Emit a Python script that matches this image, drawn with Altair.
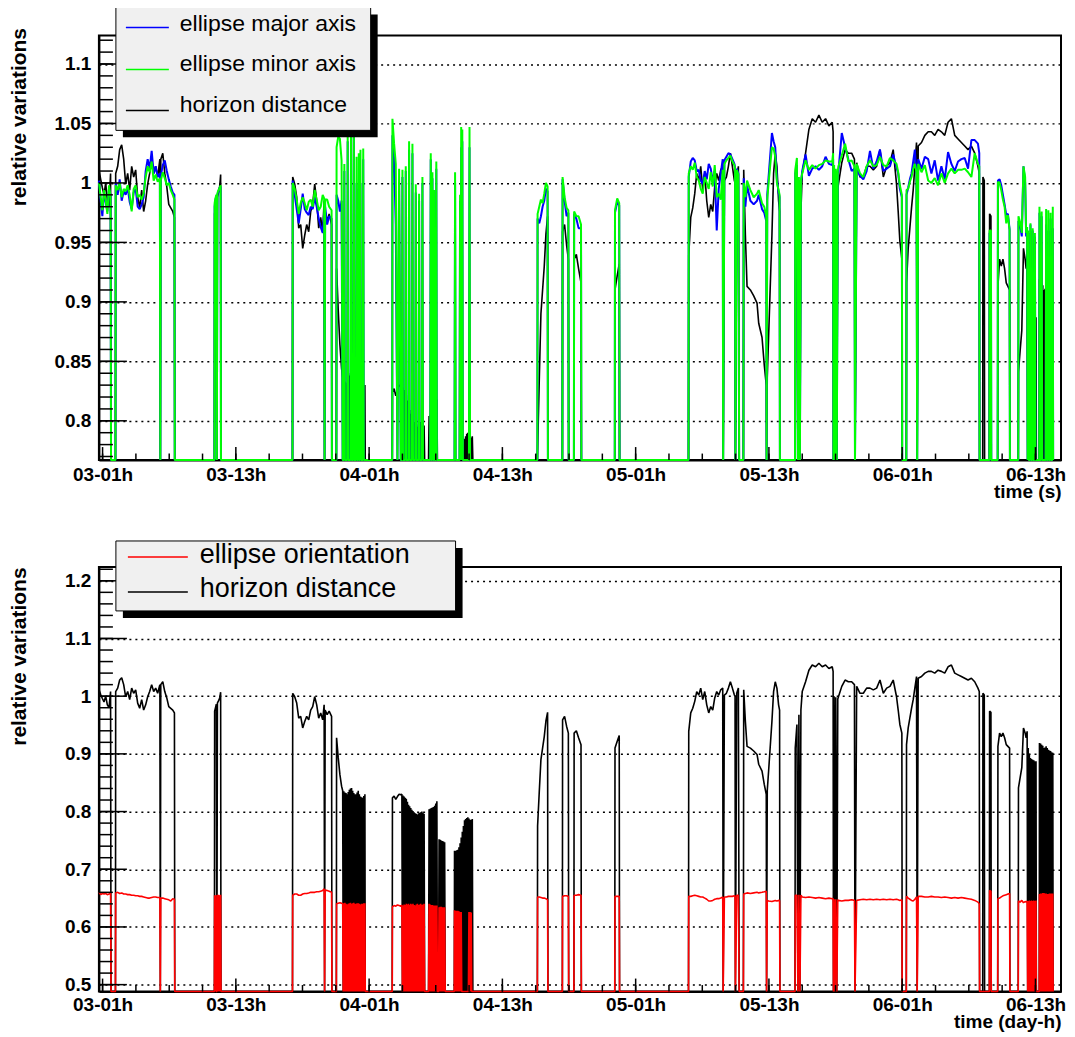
import altair as alt
import pandas as pd

# ---------------- data: time in hours since day 03, 00h ----------------
T = [
    # A
    0.68, 0.83, 0.98, 1.13, 1.28, 1.43, 1.58, 1.72, 1.76,
    # B
    2.16, 2.18, 2.36, 2.54, 2.72, 2.90, 3.08, 3.26, 3.44, 3.62, 3.80, 3.98, 4.16, 4.34, 4.52, 4.70, 4.88, 5.06, 5.24, 5.42, 5.60, 5.78, 5.96, 6.16, 6.20, 6.24, 6.42, 6.60, 6.78, 6.96, 7.14, 7.32, 7.47, 7.50,
    # C
    11.07, 11.09, 11.14, 11.19, 11.24, 11.29, 11.34, 11.39, 11.44, 11.49, 11.54, 11.59, 11.63, 11.66,
    # D
    18.10, 18.12, 18.30, 18.48, 18.66, 18.84, 19.02, 19.20, 19.38, 19.56, 19.74, 19.92, 20.10, 20.28, 20.46, 20.64, 20.82, 20.95, 20.99, 21.04, 21.22, 21.40, 21.62, 21.65,
    # E
    22.05, 22.07, 22.22, 22.37, 22.52,
    22.62, 22.67, 22.72, 22.77, 22.82, 22.87, 22.92, 22.97, 23.02, 23.07,
    23.12, 23.17, 23.22, 23.27, 23.32, 23.37, 23.42, 23.47, 23.52, 23.57,
    23.62, 23.67, 23.72, 23.77, 23.82, 23.87, 23.92, 23.97, 24.02, 24.07,
    24.12, 24.17, 24.22, 24.27, 24.32, 24.37, 24.42, 24.47, 24.52, 24.57,
    24.62,
    24.65,
    # F
    27.08, 27.10, 27.25, 27.40, 27.55, 27.70, 27.85,
    27.95, 28.00, 28.05, 28.10, 28.15, 28.20, 28.25, 28.30, 28.35, 28.40,
    28.45, 28.50, 28.55, 28.60, 28.65, 28.70, 28.75, 28.80, 28.85, 28.90,
    28.95, 29.00, 29.05, 29.10, 29.15, 29.20, 29.25, 29.30, 29.35, 29.40,
    29.45, 29.50, 29.55, 29.60, 29.65, 29.70, 29.75, 29.80, 29.85, 29.90,
    29.95, 30.00,
    30.35,
    30.40, 30.45, 30.50, 30.55, 30.60, 30.65, 30.70, 30.75, 30.80, 30.85, 30.90, 30.95, 31.00, 31.05, 31.10, 31.15,
    31.25,
    31.30, 31.35, 31.40, 31.45, 31.50, 31.55, 31.60, 31.65, 31.70, 31.75, 31.80, 31.85,
    # G
    32.67,
    32.69, 32.74, 32.79, 32.84, 32.89, 32.94, 32.99, 33.04, 33.09, 33.14,
    33.19, 33.24, 33.29, 33.34, 33.39, 33.44, 33.49, 33.54, 33.59, 33.64,
    33.69, 33.74, 33.79, 33.84, 33.89, 33.94, 33.99, 34.04, 34.09, 34.14,
    34.19, 34.24, 34.29,
    34.34,
    # H
    40.15, 40.17, 40.32, 40.47, 40.62, 40.77, 40.92, 41.07, 41.10,
    # I
    42.40, 42.42, 42.60, 42.78, 42.94, 42.97,
    # J
    43.44, 43.46, 43.66, 43.86, 44.08, 44.11,
    # K
    47.12, 47.14, 47.34, 47.52, 47.55,
    # L
    53.76, 53.78, 53.96, 54.14, 54.32, 54.50, 54.68, 54.86, 55.04, 55.22, 55.40, 55.58, 55.76, 55.94, 56.12, 56.30, 56.48, 56.66, 56.84, 56.88, 56.99, 57.17, 57.35, 57.53, 57.71, 57.89, 57.95, 57.98, 58.10, 58.25, 58.32,
    # L2
    58.70, 58.73, 58.88, 59.03, 59.33, 59.63, 59.93, 60.08, 60.38, 60.58, 60.76, 60.79, 60.85, 60.97, 61.27, 61.42, 61.57, 61.72, 61.87, 61.96, 61.99,
    # M
    63.35, 63.37, 63.52, 63.61, 63.70, 63.79, 63.88, 64.00, 64.30, 64.60, 64.90, 65.20, 65.50, 65.80, 66.10, 66.40, 66.70, 66.78, 66.81, 66.87, 66.93, 67.02, 67.11, 67.20, 67.26, 67.56, 67.86, 68.15, 68.45, 68.70, 68.75, 68.90, 69.20, 69.50, 69.80, 70.10, 70.40, 70.70, 71.00, 71.30, 71.60, 71.90, 72.19, 72.49, 72.64, 72.79, 72.97, 73.00,
    # N
    73.37, 73.39, 73.54, 73.69, 73.84, 73.99, 74.14, 74.29, 74.35, 74.44, 74.74, 75.04, 75.34, 75.63, 75.93, 76.23, 76.53, 76.83, 77.13, 77.43, 77.73, 78.03, 78.33, 78.63, 78.93, 79.23, 79.53, 79.82, 79.94, 79.97,
    # P
    80.25, 80.27, 80.39, 80.42, 80.85, 80.87, 80.99, 81.02, 81.60, 81.62, 81.77, 81.92, 82.07, 82.22, 82.37, 82.52, 82.67, 82.70,
    # Q
    83.45, 83.47, 83.62, 83.77, 83.92, 84.07, 84.16, 84.25,
    84.30, 84.35, 84.40, 84.45, 84.50, 84.55, 84.60, 84.65, 84.70, 84.75, 84.80, 84.85, 84.90, 84.95, 85.00, 85.05,
    85.08, 85.34,
    85.36, 85.41, 85.46, 85.51, 85.56, 85.61, 85.66, 85.71, 85.76, 85.81, 85.86, 85.91, 85.96, 86.01, 86.06, 86.11, 86.16, 86.21, 86.26, 86.31, 86.36, 86.41, 86.46, 86.51, 86.56,
    86.59,
]

HORIZON = [
    # A
    1.011, 1.003, 0.996, 0.990, 1.000, 0.985, 0.980, 1.008, 0,
    # B
    0, 1.008, 1.014, 1.028, 1.032, 1.020, 0.999, 1.008, 0.994, 1.014, 1.005, 1.011, 0.988, 0.979, 0.994, 0.976, 0.985, 0.999, 1.008, 1.020, 1.008, 1.014, 1.005, 1.020, 0, 1.020, 1.025, 1.008, 0.997, 0.982, 0.979, 0.976, 0.971, 0,
    # C
    0, 0.974, 0.978, 0.982, 0.986, 0, 0.988, 0.990, 0.992, 0.994, 0.997, 1.002, 1.007, 0,
    # D
    0, 1.005, 0.999, 0.988, 0.962, 0.965, 0.945, 0.956, 0.965, 0.959, 0.976, 0.982, 0.999, 0.985, 0.962, 0.971, 0.959, 0.985, 0, 0.976, 0.968, 0.974, 0.965, 0,
    # E
    0, 0.928, 0.893, 0.864, 0.844,
    0.836, 0, 0.835, 0, 0.833, 0, 0.832, 0, 0.830, 0,
    0.834, 0, 0.838, 0, 0.840, 0, 0.841, 0, 0.836, 0,
    0.832, 0, 0.830, 0, 0.830, 0, 0.833, 0, 0.836, 0,
    0.830, 0, 0.826, 0, 0.825, 0, 0.824, 0, 0.827, 0,
    0.830,
    0,
    # F
    0, 0.824, 0.827, 0.821, 0.826, 0.830, 0.829,
    0.830, 0, 0.828, 0, 0.826, 0, 0.824, 0, 0.822, 0,
    0.817, 0, 0.812, 0, 0.809, 0, 0.806, 0, 0.803, 0,
    0.801, 0, 0.799, 0, 0.797, 0, 0.796, 0, 0.795, 0,
    0.797, 0, 0.798, 0, 0.799, 0, 0.800, 0, 0.798, 0,
    0.796, 0,
    0,
    0.804, 0, 0.805, 0, 0.806, 0, 0.807, 0, 0.808, 0, 0.810, 0, 0.814, 0, 0.818, 0,
    0,
    0.752, 0, 0.751, 0, 0.750, 0, 0.749, 0, 0.748, 0, 0.747, 0,
    # G
    0,
    0.732, 0, 0.732, 0, 0.733, 0, 0.734, 0, 0.738, 0,
    0.745, 0, 0.755, 0, 0.765, 0, 0.775, 0, 0.785, 0,
    0.787, 0, 0.789, 0, 0.790, 0, 0.788, 0, 0.786, 0,
    0.786, 0, 0.787,
    0,
    # H
    0, 0.775, 0.834, 0.890, 0.910, 0.930, 0.957, 0.972, 0,
    # I
    0, 0.959, 0.965, 0.948, 0.936, 0,
    # J
    0, 0.936, 0.940, 0.928, 0.916, 0,
    # K
    0, 0.910, 0.922, 0.932, 0,
    # L
    0, 0.939, 0.971, 0.979, 0.991, 1.008, 1.002, 1.014, 0.994, 1.008, 0.985, 0.971, 0.982, 0.976, 0.997, 1.008, 1.002, 1.011, 1.014, 0, 1.002, 1.005, 1.014, 1.025, 1.014, 1.002, 1.000, 0, 1.005, 1.014, 0,
    # L2
    0, 1.011, 0.956, 0.913, 0.910, 0.905, 0.899, 0.882, 0.870, 0.847, 0.830, 0, 0.836, 0.870, 0.956, 1.008, 1.025, 1.014, 0.985, 0.976, 0,
    # M
    0, 0.910, 0.951, 0, 0.968, 0, 0.976, 1.008, 1.025, 1.045, 1.054, 1.051, 1.057, 1.051, 1.054, 1.048, 1.051, 1.043, 0, 1.000, 0, 0.998, 0, 0.995, 0.999, 1.017, 1.028, 1.025, 1.025, 1.020, 0, 1.017, 1.005, 1.005, 1.014, 1.014, 1.011, 1.014, 1.028, 1.005, 1.014, 1.017, 1.028, 0.999, 0.976, 0.951, 0.936, 0,
    # N
    0, 0.916, 0.945, 0.962, 0.979, 0.994, 1.014, 1.034, 0, 1.031, 1.034, 1.040, 1.043, 1.043, 1.040, 1.045, 1.043, 1.040, 1.051, 1.054, 1.040, 1.037, 1.034, 1.031, 1.028, 1.031, 1.025, 1.014, 1.008, 0,
    # P
    0, 1.005, 1.002, 0, 0, 0.974, 0.972, 0, 0, 0.913, 0.936, 0.930, 0.936, 0.928, 0.916, 0.913, 0.910, 0,
    # Q
    0, 0.841, 0.859, 0.876, 0.945, 0.936, 0.928, 0.939,
    0, 0.910, 0, 0.900, 0, 0.893, 0, 0.891, 0, 0.890, 0, 0.889, 0, 0.887, 0, 0.887,
    0, 0,
    0.919, 0, 0.918, 0, 0.916, 0, 0.914, 0, 0.910, 0, 0.911, 0, 0.913, 0, 0.910, 0, 0.907, 0, 0.906, 0, 0.905, 0, 0.903, 0, 0.902,
    0,
]

MINOR_AXIS = [
    # A
    1.000, 0.988, 0.977, 0.994, 0.986, 0.974, 0.998, 0.988, 0,
    # B
    0, 0.998, 0.994, 1.000, 0.988, 0.995, 0.993, 0.998, 0.990, 0.976, 0.995, 0.998, 0.988, 0.990, 0.986, 0.991, 1.005, 1.014, 1.009, 1.018, 1.002, 1.007, 1.001, 1.004, 0, 1.002, 1.009, 1.004, 0.998, 1.000, 0.994, 0.990, 0.986, 0,
    # C
    0, 0.983, 0.986, 0.988, 0.990, 0, 0.991, 0.993, 0.994, 0.995, 0.996, 0.997, 0.998, 0,
    # D
    0, 1.000, 0.995, 0.986, 0.974, 0.983, 0.988, 0.983, 0.977, 0.984, 0.986, 0.980, 0.994, 0.986, 0.977, 0.980, 0.990, 0.987, 0, 0.986, 0.986, 0.980, 0.977, 0,
    # E
    0, 1.030, 1.039, 1.037, 1.019,
    0, 0, 0, 1.016, 0, 0, 0, 0, 0, 1.040,
    0, 0, 0, 0, 0, 1.039, 0, 0, 0, 0,
    1.058, 0, 0, 0, 0, 1.022, 0, 0, 0, 1.025,
    0, 0, 1.028, 0, 0, 0, 0, 1.029, 0, 0,
    0,
    0,
    # F
    0, 1.054, 1.033, 1.016, 0, 1.012, 0,
    0, 1.011, 0, 0, 0, 0, 0, 1.014, 0, 0,
    0, 0, 0, 1.035, 0, 0, 0, 0, 0, 1.033,
    0, 0, 0, 0, 0, 0.999, 0, 0, 0, 0,
    0, 0.991, 0, 0, 0, 0, 0, 1.005, 0, 0,
    0, 0,
    0,
    0, 0, 0, 1.025, 0, 0, 1.009, 0, 0, 0.994, 0, 0, 0, 1.018, 0, 0,
    0,
    0, 0, 0, 0, 0, 0, 0, 0, 0, 0, 0, 0,
    # G
    0,
    0, 1.009, 0, 0, 0, 0, 0, 0, 0, 0,
    0.990, 0, 1.047, 0, 1.045, 0, 0, 0, 0, 0,
    0, 0, 0, 0, 0, 0, 0, 1.047, 0, 0,
    0, 0, 0,
    0,
    # H
    0, 0.974, 0.980, 0.986, 0.983, 0.991, 1.000, 0.997, 0,
    # I
    0, 1.005, 0.988, 0.979, 0.977, 0,
    # J
    0, 0.976, 0.972, 0.972, 0.965, 0,
    # K
    0, 0.977, 0.987, 0.983, 0,
    # L
    0, 1.008, 1.014, 1.011, 1.017, 1.005, 1.002, 0.995, 0.991, 1.005, 1.000, 0.995, 1.009, 0.997, 1.015, 0.988, 0.991, 0.986, 1.011, 0, 1.016, 1.019, 1.021, 1.023, 1.018, 1.015, 1.012, 0, 1.011, 1.007, 0,
    # L2
    0, 1.000, 0.988, 1.002, 0.994, 0.988, 0.991, 0.994, 0.983, 0.980, 0.972, 0, 0.986, 1.000, 1.030, 1.029, 1.022, 1.000, 0.994, 0.990, 0,
    # M
    0, 1.011, 1.021, 0, 1.005, 0, 1.002, 1.008, 1.019, 1.011, 1.015, 1.012, 1.015, 1.016, 1.019, 1.018, 1.018, 1.025, 0, 1.015, 0, 1.012, 0, 1.010, 1.014, 1.023, 1.033, 1.018, 1.019, 1.014, 0, 1.016, 1.008, 1.005, 1.014, 1.019, 1.014, 1.015, 1.022, 1.015, 1.014, 1.021, 1.019, 1.016, 1.009, 0.998, 0.990, 0,
    # N
    0, 0.994, 0.995, 1.001, 1.005, 1.012, 1.016, 1.009, 0, 1.016, 1.009, 1.015, 1.002, 1.000, 1.004, 0.998, 1.008, 1.000, 1.008, 1.012, 1.008, 1.011, 1.011, 1.012, 1.009, 1.005, 1.025, 1.016, 1.014, 0,
    # P
    0, 0, 0, 0, 0, 0.960, 0.960, 0, 0, 1.001, 1.000, 0.994, 0.986, 0.980, 0.966, 0.973, 0.960, 0,
    # Q
    0, 0.972, 0.967, 0.958, 1.014, 1.005, 0.958, 0.963,
    0, 0.960, 0, 0, 0, 0.966, 0, 0, 0, 0.962, 0, 0, 0, 0.958, 0, 0,
    0, 0,
    0.980, 0, 0, 0, 0.976, 0, 0, 0, 0, 0, 0, 0, 0.978, 0, 0, 0, 0.977, 0, 0, 0, 0.975, 0, 0, 0, 0.980,
    0,
]

MAJOR_AXIS = [
    # A
    1.002, 0.985, 0.972, 0.992, 0.984, 0.976, 0.995, 0.990, 0,
    # B
    0, 1.000, 0.990, 1.003, 0.985, 0.993, 0.990, 0.996, 0.984, 0.978, 0.992, 0.995, 0.980, 0.978, 0.982, 0.988, 1.010, 1.020, 1.012, 1.027, 1.008, 1.014, 1.005, 1.008, 0, 1.006, 1.015, 1.019, 1.010, 1.003, 0.997, 0.992, 0.990, 0,
    # C
    0, 0.980, 0.984, 0.987, 0.989, 0, 0.990, 0.992, 0.993, 0.995, 0.996, 0.996, 0.997, 0,
    # D
    0, 1.002, 0.990, 0.978, 0.966, 0.978, 0.991, 0.978, 0.975, 0.973, 0.980, 0.978, 0.988, 0.980, 0.970, 0.963, 0.958, 0.975, 0, 0.980, 0.965, 0.972, 0.970, 0,
    # E
    0, 0.990, 0.985, 0.976, 0.985,
    0, 0, 0, 1.010, 0, 0, 0, 0, 0, 1.035,
    0, 0, 0, 0, 0, 1.030, 0, 0, 0, 0,
    1.050, 0, 0, 0, 0, 1.000, 0, 0, 0, 0.995,
    0, 0, 1.000, 0, 0, 0, 0, 1.020, 0, 0,
    0,
    0,
    # F
    0, 1.040, 1.020, 0.965, 0, 1.000, 0,
    0, 1.005, 0, 0, 0, 0, 0, 1.010, 0, 0,
    0, 0, 0, 1.028, 0, 0, 0, 0, 0, 1.025,
    0, 0, 0, 0, 0, 0.992, 0, 0, 0, 0,
    0, 0.985, 0, 0, 0, 0, 0, 1.000, 0, 0,
    0, 0,
    0,
    0, 0, 0, 1.020, 0, 0, 1.004, 0, 0, 0.994, 0, 0, 0, 1.012, 0, 0,
    0,
    0, 0, 0, 0, 0, 0, 0, 0, 0, 0, 0, 0,
    # G
    0,
    0, 1.000, 0, 0, 0, 0, 0, 0, 0, 0,
    0.985, 0, 1.030, 0, 1.035, 0, 0, 0, 0, 0,
    0, 0, 0, 0, 0, 0, 0, 1.030, 0, 0,
    0, 0, 0,
    0,
    # H
    0, 0.970, 0.966, 0.972, 0.980, 0.985, 0.995, 0.993, 0,
    # I
    0, 1.003, 0.985, 0.972, 0.975, 0,
    # J
    0, 0.974, 0.970, 0.962, 0.962, 0,
    # K
    0, 0.975, 0.984, 0.981, 0,
    # L
    0, 1.005, 1.018, 1.021, 1.019, 1.010, 1.011, 1.002, 0.999, 1.010, 1.003, 1.016, 1.012, 1.002, 1.010, 0.960, 0.995, 1.008, 1.020, 0, 1.019, 1.022, 1.025, 1.024, 1.020, 1.016, 1.013, 0, 1.012, 1.008, 0,
    # L2
    0, 1.004, 0.980, 0.998, 0.985, 0.982, 0.985, 0.990, 0.978, 0.975, 0.968, 0, 0.990, 1.005, 1.042, 1.035, 1.030, 1.003, 0.992, 0.988, 0,
    # M
    0, 1.008, 1.015, 0, 0.998, 0, 1.000, 1.010, 1.024, 1.006, 1.012, 1.014, 1.011, 1.014, 1.022, 1.016, 1.015, 1.020, 0, 1.012, 0, 1.010, 0, 1.008, 1.010, 1.042, 1.030, 1.020, 1.010, 1.012, 0, 1.012, 1.006, 1.003, 1.010, 1.027, 1.012, 1.018, 1.028, 1.010, 1.012, 1.014, 1.024, 1.013, 1.008, 0.995, 0.988, 0,
    # N
    0, 0.990, 0.996, 1.003, 1.008, 1.018, 1.028, 1.007, 0, 1.020, 1.012, 1.022, 1.020, 1.008, 1.019, 1.002, 1.014, 1.003, 1.026, 1.016, 1.010, 1.018, 1.020, 1.021, 1.012, 1.036, 1.036, 1.033, 1.025, 0,
    # P
    0, 0, 0, 0, 0, 0.958, 0.958, 0, 0, 1.002, 1.003, 0.998, 0.990, 0.982, 0.973, 0.974, 0.961, 0,
    # Q
    0, 0.968, 0.964, 0.955, 1.014, 1.000, 0.955, 0.960,
    0, 0.958, 0, 0, 0, 0.965, 0, 0, 0, 0.960, 0, 0, 0, 0.955, 0, 0,
    0, 0,
    0.975, 0, 0, 0, 0.972, 0, 0, 0, 0, 0, 0, 0, 0.965, 0, 0, 0, 0.960, 0, 0, 0, 0.970, 0, 0, 0, 0.962,
    0,
]

ORIENTATION = [
    # A
    0.660, 0.656, 0.658, 0.657, 0.658, 0.656, 0.657, 0.659, 0,
    # B
    0, 0.659, 0.660, 0.658, 0.659, 0.657, 0.657, 0.656, 0.656, 0.655, 0.655, 0.654, 0.654, 0.653, 0.653, 0.652, 0.651, 0.650, 0.650, 0.651, 0.652, 0.652, 0.651, 0.651, 0, 0.650, 0.650, 0.649, 0.648, 0.647, 0.645, 0.649, 0.648, 0,
    # C
    0, 0.655, 0, 0.655, 0, 0, 0.656, 0, 0.656, 0, 0.655, 0, 0.656, 0,
    # D
    0, 0.655, 0.657, 0.657, 0.655, 0.655, 0.657, 0.658, 0.658, 0.659, 0.660, 0.660, 0.660, 0.661, 0.661, 0.662, 0.663, 0.666, 0, 0.664, 0.663, 0.662, 0.660, 0,
    # E
    0, 0.640, 0.641, 0.642, 0.641,
    0.640, 0, 0.641, 0, 0.642, 0, 0.640, 0, 0.639, 0,
    0.640, 0, 0.641, 0, 0.642, 0, 0.640, 0, 0.641, 0,
    0.642, 0, 0.640, 0, 0.640, 0, 0.641, 0, 0.641, 0,
    0.640, 0, 0.639, 0, 0.640, 0, 0.640, 0, 0.641, 0,
    0.641,
    0,
    # F
    0, 0.635, 0.637, 0.636, 0.638, 0.637, 0.636,
    0.638, 0, 0.637, 0, 0.639, 0, 0.638, 0, 0.640, 0,
    0.639, 0, 0.640, 0, 0.638, 0, 0.640, 0, 0.639, 0,
    0.640, 0, 0.638, 0, 0.637, 0, 0.639, 0, 0.640, 0,
    0.638, 0, 0.639, 0, 0.640, 0, 0.638, 0, 0.639, 0,
    0.640, 0,
    0,
    0.640, 0, 0.639, 0, 0.638, 0, 0.638, 0, 0.637, 0, 0.637, 0, 0.637, 0, 0.637, 0,
    0,
    0.634, 0, 0.635, 0, 0.635, 0, 0.634, 0, 0.634, 0, 0.634, 0,
    # G
    0,
    0.629, 0, 0.628, 0, 0.628, 0, 0.628, 0, 0.627, 0,
    0.626, 0, 0.626, 0, 0, 0, 0, 0, 0, 0,
    0, 0, 0, 0, 0, 0, 0.626, 0, 0.626, 0,
    0.625, 0, 0,
    0,
    # H
    0, 0.652, 0.652, 0.651, 0.650, 0.650, 0.649, 0.647, 0,
    # I
    0, 0.653, 0.654, 0.654, 0.653, 0,
    # J
    0, 0.655, 0.655, 0.656, 0.655, 0,
    # K
    0, 0.653, 0.653, 0.653, 0,
    # L
    0, 0.653, 0.653, 0.654, 0.655, 0.654, 0.653, 0.652, 0.652, 0.650, 0.648, 0.645, 0.645, 0.646, 0.648, 0.649, 0.649, 0.650, 0.652, 0, 0.652, 0.652, 0.653, 0.653, 0.653, 0.654, 0.654, 0, 0.655, 0.655, 0,
    # L2
    0, 0.657, 0.658, 0.659, 0.658, 0.659, 0.660, 0.659, 0.660, 0.661, 0.662, 0, 0.646, 0.645, 0.644, 0.645, 0.646, 0.645, 0.646, 0.646, 0,
    # M
    0, 0.655, 0.655, 0, 0.656, 0, 0.655, 0.652, 0.651, 0.652, 0.651, 0.650, 0.651, 0.650, 0.649, 0.650, 0.649, 0.649, 0, 0.648, 0, 0.648, 0, 0.647, 0.646, 0.645, 0.646, 0.646, 0.647, 0.646, 0, 0.646, 0.647, 0.648, 0.647, 0.648, 0.647, 0.648, 0.647, 0.648, 0.647, 0.648, 0.647, 0.648, 0.647, 0.646, 0.647, 0,
    # N
    0, 0.653, 0.650, 0.648, 0.646, 0.645, 0.648, 0.652, 0, 0.653, 0.653, 0.652, 0.652, 0.653, 0.652, 0.652, 0.651, 0.652, 0.651, 0.650, 0.651, 0.650, 0.651, 0.650, 0.649, 0.648, 0.646, 0.643, 0.640, 0,
    # P
    0, 0, 0, 0, 0, 0.663, 0.662, 0, 0, 0.649, 0.650, 0.652, 0.654, 0.655, 0.656, 0.657, 0.658, 0,
    # Q
    0, 0.645, 0.643, 0.646, 0.642, 0.644, 0.643, 0.645,
    0, 0.645, 0, 0.646, 0, 0.645, 0, 0.646, 0, 0.645, 0, 0.646, 0, 0.645, 0, 0.646,
    0, 0,
    0.657, 0, 0.658, 0, 0.658, 0, 0.659, 0, 0.659, 0, 0.658, 0, 0.658, 0, 0.657, 0, 0.657, 0, 0.658, 0, 0.658, 0, 0.658, 0, 0.658,
    0,
]

X_TICKS = [1, 13, 25, 37, 49, 61, 73, 85]
X_LABELS = ["03-01h", "03-13h", "04-01h", "04-13h", "05-01h", "05-13h", "06-01h", "06-13h"]
X_MINOR = list(range(1, 88, 3))
Y_TOP_MAJOR = [0.8, 0.85, 0.9, 0.95, 1.0, 1.05, 1.1]
Y_TOP_MINOR = [round(0.77 + 0.01 * k, 2) for k in range(36)]
Y_BOT_MAJOR = [0.5, 0.6, 0.7, 0.8, 0.9, 1.0, 1.1, 1.2]
Y_BOT_MINOR = [round(0.50 + 0.02 * k, 2) for k in range(37)]

TOP_LEGEND = ["ellipse major axis", "ellipse minor axis", "horizon distance"]
BOT_LEGEND = ["ellipse orientation", "horizon distance"]

for name, arr in [("HORIZON", HORIZON), ("MINOR_AXIS", MINOR_AXIS),
                  ("MAJOR_AXIS", MAJOR_AXIS), ("ORIENTATION", ORIENTATION)]:
    if len(arr) != len(T):
        raise ValueError(f"{name} has {len(arr)} values, T has {len(T)}")

# ---------------- chart ----------------
W, H = 963, 425
FONT = "Liberation Sans"
BLUE, GREEN, BLACK, RED = "#0000ff", "#00ff00", "#000000", "#ff0000"

data = pd.DataFrame({"t": T, "hd": HORIZON, "maj": MAJOR_AXIS, "mn": MINOR_AXIS, "ori": ORIENTATION})
data["i"] = range(len(data))
one = pd.DataFrame({"k": [0]})

x_scale = alt.Scale(domain=[0.67, 87.3], nice=False, zero=False)
y_top = alt.Scale(domain=[0.767, 1.124], nice=False, zero=False, clamp=True)
y_bot = alt.Scale(domain=[0.488, 1.224], nice=False, zero=False, clamp=True)

label_expr = ("[" + ",".join(f"'{s}'" for s in X_LABELS) + "][indexof(["
              + ",".join(str(v) for v in X_TICKS) + "], datum.value)]")


def x_axis(title, label_pad, title_y):
    return alt.Axis(values=X_TICKS, labelExpr=label_expr, grid=False, ticks=False,
                    domainColor="black", domainWidth=2,
                    labelFont=FONT, labelFontWeight="bold", labelFontSize=19, labelColor="black",
                    labelPadding=label_pad, labelBaseline="top", labelFlush=False, labelOverlap=False,
                    title=title, titleFont=FONT, titleFontWeight="bold", titleFontSize=19,
                    titleColor="black", titleAnchor="end", titleAlign="right",
                    titleBaseline="alphabetic", titleY=title_y)


def y_axis(values, title_y):
    return alt.Axis(values=values, format="~g", grid=True, gridDash=[2, 4], gridColor="black",
                    gridWidth=1.5, ticks=False, domainColor="black", domainWidth=2,
                    labelFont=FONT, labelFontWeight="bold", labelFontSize=19, labelColor="black",
                    labelPadding=8, labelFlush=False, labelOverlap=False,
                    title="relative variations", titleFont=FONT, titleFontWeight="bold",
                    titleFontSize=21, titleColor="black", titleAngle=270, titleAlign="right",
                    titleBaseline="middle", titleX=-79, titleY=title_y)


def line_layer(col, color, width, yscale, xax, yax):
    return alt.Chart(data).mark_line(color=color, strokeWidth=width, strokeJoin="bevel").encode(
        x=alt.X("t:Q", scale=x_scale, axis=xax),
        y=alt.Y(f"{col}:Q", scale=yscale, axis=yax),
        order=alt.Order("i:Q"),
    )


def tick_layers(yscale, y_major, y_minor, xax, yax):
    ymaj = alt.Chart(pd.DataFrame({"v": y_major})).mark_rule(color="black", strokeWidth=1.5).encode(
        x=alt.value(0), x2=alt.value(28), y=alt.Y("v:Q", scale=yscale, axis=yax))
    ymin = alt.Chart(pd.DataFrame({"v": y_minor})).mark_rule(color="black", strokeWidth=1.5).encode(
        x=alt.value(0), x2=alt.value(14), y=alt.Y("v:Q", scale=yscale, axis=yax))
    xmaj = alt.Chart(pd.DataFrame({"h": X_TICKS})).mark_rule(color="black", strokeWidth=1.5).encode(
        x=alt.X("h:Q", scale=x_scale, axis=xax), y=alt.value(H), y2=alt.value(H - 13))
    xmin = alt.Chart(pd.DataFrame({"h": X_MINOR})).mark_rule(color="black", strokeWidth=1.5).encode(
        x=alt.X("h:Q", scale=x_scale, axis=xax), y=alt.value(H), y2=alt.value(H - 6.5))
    return [ymaj, ymin, xmaj, xmin]


def legend_layers(box, labels, colors, line_x, line_ys, text_x, text_ys, fs):
    x1, x2, y1, y2 = box
    layers = [
        alt.Chart(one).mark_rect(fill="black").encode(
            x=alt.value(x1 + 7), x2=alt.value(x2 + 7), y=alt.value(y1 + 7), y2=alt.value(y2 + 7)),
        alt.Chart(one).mark_rect(fill="#f0f0f0", stroke="black", strokeWidth=1).encode(
            x=alt.value(x1), x2=alt.value(x2), y=alt.value(y1), y2=alt.value(y2)),
    ]
    for lab, col, ly, ty in zip(labels, colors, line_ys, text_ys):
        layers.append(alt.Chart(one).mark_rule(color=col, strokeWidth=1.5).encode(
            x=alt.value(line_x[0]), x2=alt.value(line_x[1]), y=alt.value(ly)))
        layers.append(alt.Chart(one).mark_text(text=lab, align="left", baseline="middle", font=FONT,
                                               fontSize=fs, color="black").encode(
            x=alt.value(text_x), y=alt.value(ty)))
    return layers


xa_top, ya_top = x_axis("time (s)", 5, 37), y_axis(Y_TOP_MAJOR, -8)
xa_bot, ya_bot = x_axis("time (day-h)", 4, 36), y_axis(Y_BOT_MAJOR, 0)

top = alt.layer(
    line_layer("hd", BLACK, 1.6, y_top, xa_top, ya_top),
    line_layer("maj", BLUE, 2, y_top, xa_top, ya_top),
    line_layer("mn", GREEN, 2, y_top, xa_top, ya_top),
    *tick_layers(y_top, Y_TOP_MAJOR, Y_TOP_MINOR, xa_top, ya_top),
    *legend_layers((17, 272, -28, 95), TOP_LEGEND, [BLUE, GREEN, BLACK],
                   (27, 70), [-8, 34, 75], 81, [-11, 29, 70], 23),
).properties(width=W, height=H)

bottom = alt.layer(
    line_layer("hd", BLACK, 1.6, y_bot, xa_bot, ya_bot),
    line_layer("ori", RED, 1.6, y_bot, xa_bot, ya_bot),
    *tick_layers(y_bot, Y_BOT_MAJOR, Y_BOT_MINOR, xa_bot, ya_bot),
    *legend_layers((17, 357, -26, 44), BOT_LEGEND, [RED, BLACK],
                   (29, 89), [-10, 25], 101, [-12, 22], 27),
).properties(width=W, height=H)

chart = alt.vconcat(top, bottom, spacing=107, bounds="flush").properties(
    padding={"left": 0, "top": -3, "right": 0, "bottom": 0}, background="white"
).configure_view(stroke="black", strokeWidth=2)

chart.save("out.html", embed_options={"renderer": "svg", "actions": False})
